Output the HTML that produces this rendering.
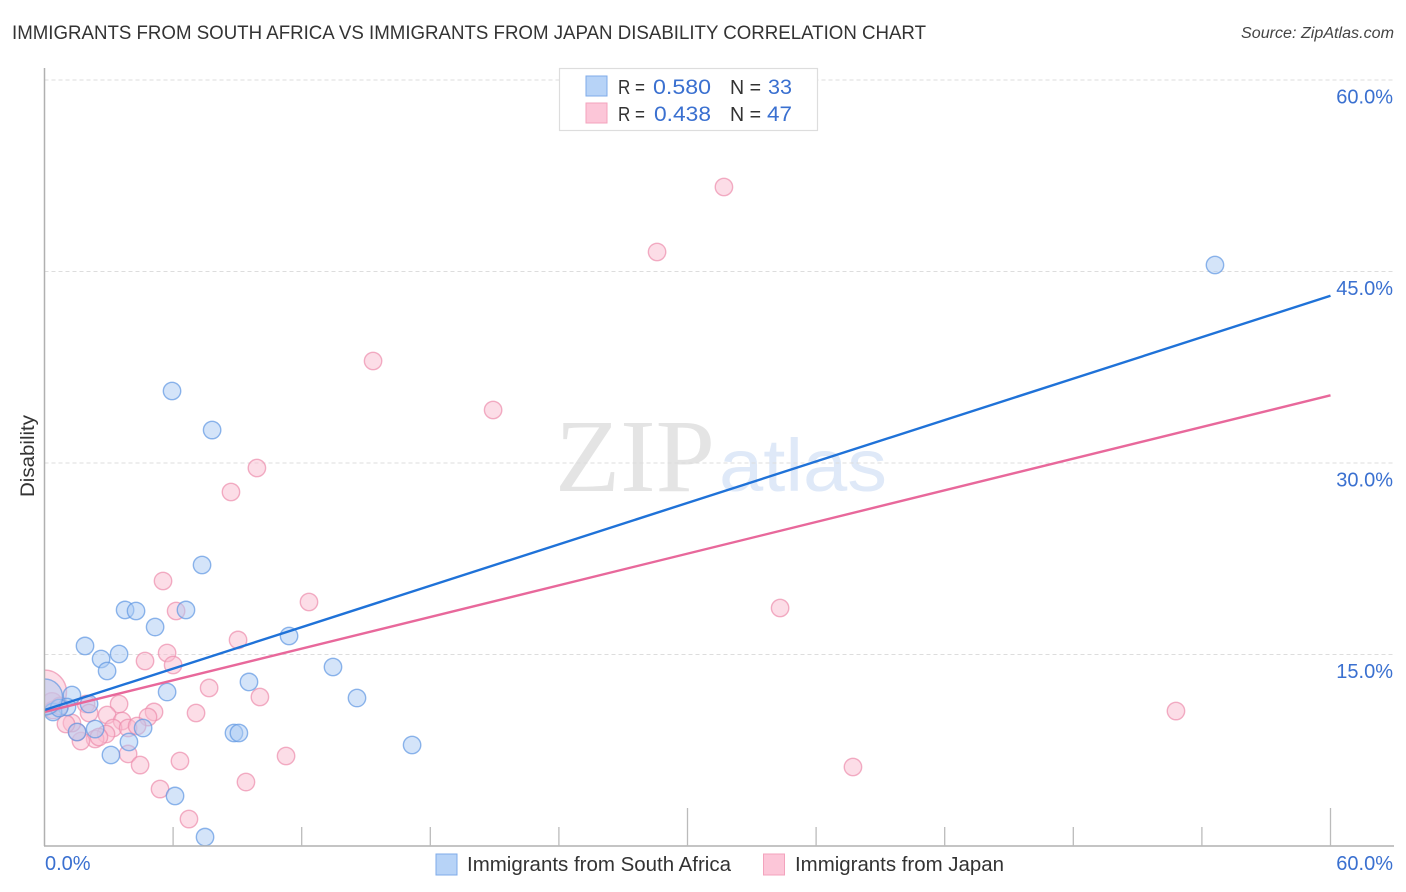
<!DOCTYPE html>
<html>
<head>
<meta charset="utf-8">
<title>Immigrants from South Africa vs Immigrants from Japan Disability Correlation Chart</title>
<style>
html,body{margin:0;padding:0;background:#fff;width:1406px;height:892px;overflow:hidden}
svg{display:block;font-family:"Liberation Sans",sans-serif}
</style>
</head>
<body>
<svg id="chart" width="1406" height="892" viewBox="0 0 1406 892" xmlns="http://www.w3.org/2000/svg">
  <defs><clipPath id="plot-clip"><rect x="44.5" y="60" width="1349" height="786"/></clipPath></defs>
  <text x="12" y="39" font-size="19" fill="#333" textLength="914" lengthAdjust="spacingAndGlyphs">IMMIGRANTS FROM SOUTH AFRICA VS IMMIGRANTS FROM JAPAN DISABILITY CORRELATION CHART</text>
  <text x="1241" y="38" font-size="15.5" font-style="italic" fill="#444" textLength="153" lengthAdjust="spacingAndGlyphs">Source: ZipAtlas.com</text>
  <text transform="translate(34,497) rotate(-90)" font-size="19" fill="#333" textLength="82" lengthAdjust="spacingAndGlyphs">Disability</text>

  <g>
    <text x="555" y="491" font-family="'Liberation Serif',serif" font-size="104" fill="#e4e4e4" textLength="160" lengthAdjust="spacingAndGlyphs">ZIP</text>
    <text x="719" y="491" font-size="74" fill="#dfe9f8" textLength="168" lengthAdjust="spacingAndGlyphs">atlas</text>
  </g>

  <g id="grid"></g>
  <g id="points" clip-path="url(#plot-clip)"></g>
  <g id="trends"></g>
  <rect x="0" y="640" width="44" height="100" fill="#fff"/>
  <g id="axes"></g>
  <g id="labels"></g>

  <g>
    <rect x="559.5" y="68.5" width="258" height="62" fill="#fff" stroke="#ddd" stroke-width="1.2"/>
    <rect x="586" y="76" width="21" height="20" fill="#b7d3f7" stroke="#7fabe8" stroke-width="1"/>
    <rect x="586" y="103" width="21" height="20" fill="#fcc6d8" stroke="#f3a3bd" stroke-width="1"/>
    <g font-size="20.5" fill="#333">
      <text x="618" y="94" textLength="27" lengthAdjust="spacingAndGlyphs">R =</text>
      <text x="730" y="94" textLength="31" lengthAdjust="spacingAndGlyphs">N =</text>
      <text x="618" y="121" textLength="27" lengthAdjust="spacingAndGlyphs">R =</text>
      <text x="730" y="121" textLength="31" lengthAdjust="spacingAndGlyphs">N =</text>
    </g>
    <g font-size="21.5" fill="#3a70d0">
      <text x="653" y="94" textLength="58" lengthAdjust="spacingAndGlyphs">0.580</text>
      <text x="768" y="94" textLength="24" lengthAdjust="spacingAndGlyphs">33</text>
      <text x="654" y="121" textLength="57" lengthAdjust="spacingAndGlyphs">0.438</text>
      <text x="767" y="121" textLength="25" lengthAdjust="spacingAndGlyphs">47</text>
    </g>
  </g>

  <g>
    <rect x="436" y="854" width="21" height="21" fill="#b7d3f7" stroke="#7fabe8" stroke-width="1"/>
    <text x="467" y="871" font-size="20" fill="#333" textLength="264" lengthAdjust="spacingAndGlyphs">Immigrants from South Africa</text>
    <rect x="763.5" y="854" width="21" height="21" fill="#fcc6d8" stroke="#f3a3bd" stroke-width="1"/>
    <text x="795" y="871" font-size="20" fill="#333" textLength="209" lengthAdjust="spacingAndGlyphs">Immigrants from Japan</text>
  </g>
</svg>

<script>
// Data (percent units)
const southAfricaX = [54.61,5.95,7.82,7.35,3.76,4.27,6.60,5.16,1.89,2.64,3.48,2.92,5.72,11.41,13.46,9.54,14.58,17.15,1.28,2.08,1.05,0.40,0.68,0.00,1.52,2.36,4.60,3.94,3.10,8.84,9.07,6.09,7.49];
const southAfricaY = [45.51,35.64,32.58,22.01,18.49,18.41,18.49,17.15,15.67,14.65,15.04,13.71,12.06,16.45,14.02,12.85,11.59,7.91,11.83,11.12,10.89,10.50,10.81,11.67,8.93,9.16,9.24,8.15,7.13,8.85,8.85,3.92,0.70];
const southAfricaWeight = [1,1,1,1,1,1,1,1,1,1,1,1,1,1,1,1,1,1,1,1,1,1,1,4.3,1,1,1,1,1,1,1,1,1];

const japanX = [31.70,28.58,15.33,20.93,9.91,8.70,34.32,52.79,37.72,5.53,6.14,12.34,9.03,5.72,4.69,6.00,7.68,10.05,7.07,5.11,4.83,3.48,2.92,1.94,2.08,3.62,3.20,3.90,4.32,2.87,2.36,2.54,1.70,1.52,1.28,1.00,0.35,0.40,0.72,3.90,4.46,6.32,5.39,6.74,9.40,11.27,0.00];
const japanY = [51.62,46.53,37.99,34.15,29.61,27.73,18.64,10.57,6.19,20.76,18.41,19.11,16.14,15.12,14.49,14.18,12.38,11.67,10.42,10.50,10.10,11.12,10.26,11.12,10.42,9.79,9.24,9.24,9.40,8.77,8.38,8.54,8.22,8.93,9.63,9.56,11.20,10.65,10.97,7.21,6.34,6.66,4.46,2.11,5.01,7.05,12.06];
const japanWeight = [1,1,1,1,1,1,1,1,1,1,1,1,1,1,1,1,1,1,1,1,1,1,1,1,1,1,1,1,1,1,1,1,1,1,1,1,1.4,1,1,1,1,1,1,1,1,1,6.4];

const trendSouthAfrica = [10.65,43.1];
const trendJapan = [10.5,35.3];
const trendDomain = [0,60];

const yTickValues = [60,45,30,15];
const yTickLabels = ["60.0%","45.0%","30.0%","15.0%"];
const xTickValues = [0,6,12,18,24,30,36,42,48,54,60];
const xMajorTicks = [30,60];
const xEndValues = [0,60];
const xEndLabels = ["0.0%","60.0%"];

// Axis functions
const xScale = v => 44.5 + v * (1330.5 - 44.5) / 60;
const yScale = v => 846 - v * (846 - 80) / 60;
const rScale = w => 8.7 * Math.sqrt(w);

const NS = "http://www.w3.org/2000/svg";
function make(parent, tag, attrs) {
  const el = document.createElementNS(NS, tag);
  for (const k in attrs) el.setAttribute(k, attrs[k]);
  parent.appendChild(el);
  return el;
}
const gGrid = document.getElementById("grid");
const gAxes = document.getElementById("axes");
const gPoints = document.getElementById("points");
const gTrends = document.getElementById("trends");
const gLabels = document.getElementById("labels");

yTickValues.forEach((v, i) => {
  const line = make(gGrid, "line", {x1: 44.5, x2: 1393, y1: yScale(v), y2: yScale(v), stroke: "#ddd", "stroke-width": 1, "stroke-dasharray": "4 3"});
  
  
  const label = make(gLabels, "text", {x: 1393, y: yScale(v) + 23.5, "text-anchor": "end", "font-size": 20, fill: "#3a70d0"});
  label.textContent = yTickLabels[i];
  
  
});

const yAxisLine = make(gAxes, "line", {x1: 44.5, x2: 44.5, y1: 68, y2: 846, stroke: "#b0b0b0", "stroke-width": 1.5});


const xAxisLine = make(gAxes, "line", {x1: 44, x2: 1394, y1: 846, y2: 846, stroke: "#b0b0b0", "stroke-width": 1.5});



xTickValues.forEach(v => {
  if (v === 0) return;
  const top = xMajorTicks.includes(v) ? 808 : 827;
  const tick = make(gAxes, "line", {x1: xScale(v), x2: xScale(v), y1: top, y2: 846, stroke: "#bbb", "stroke-width": 1.3});
  
  
});

xEndValues.forEach((v, i) => {
  const label = make(gLabels, "text", {x: i === 0 ? 45 : 1393, y: 870, "text-anchor": i === 0 ? "start" : "end", "font-size": 20, fill: "#3a70d0"});
  label.textContent = xEndLabels[i];
  
  
});

function drawSeries(xs, ys, ws, fill, stroke, name) {
  xs.forEach((x, i) => {
    const c = make(gPoints, "circle", {cx: xScale(x), cy: yScale(ys[i]), r: rScale(ws[i]), fill: fill, "fill-opacity": 0.5, stroke: stroke, "stroke-opacity": 0.7, "stroke-width": 1.4});
    
    
  });
}
drawSeries(japanX, japanY, japanWeight, "#f9bcd0", "#ec8dac", "point-japan");
drawSeries(southAfricaX, southAfricaY, southAfricaWeight, "#a9caf4", "#5f97e2", "point-south-africa");

const pinkLine = make(gTrends, "line", {x1: xScale(trendDomain[0]), y1: yScale(trendJapan[0]), x2: xScale(trendDomain[1]), y2: yScale(trendJapan[1]), stroke: "#e8689b", "stroke-width": 2.4});


const blueLine = make(gTrends, "line", {x1: xScale(trendDomain[0]), y1: yScale(trendSouthAfrica[0]), x2: xScale(trendDomain[1]), y2: yScale(trendSouthAfrica[1]), stroke: "#1f72d8", "stroke-width": 2.4});


</script>
</body>
</html>
